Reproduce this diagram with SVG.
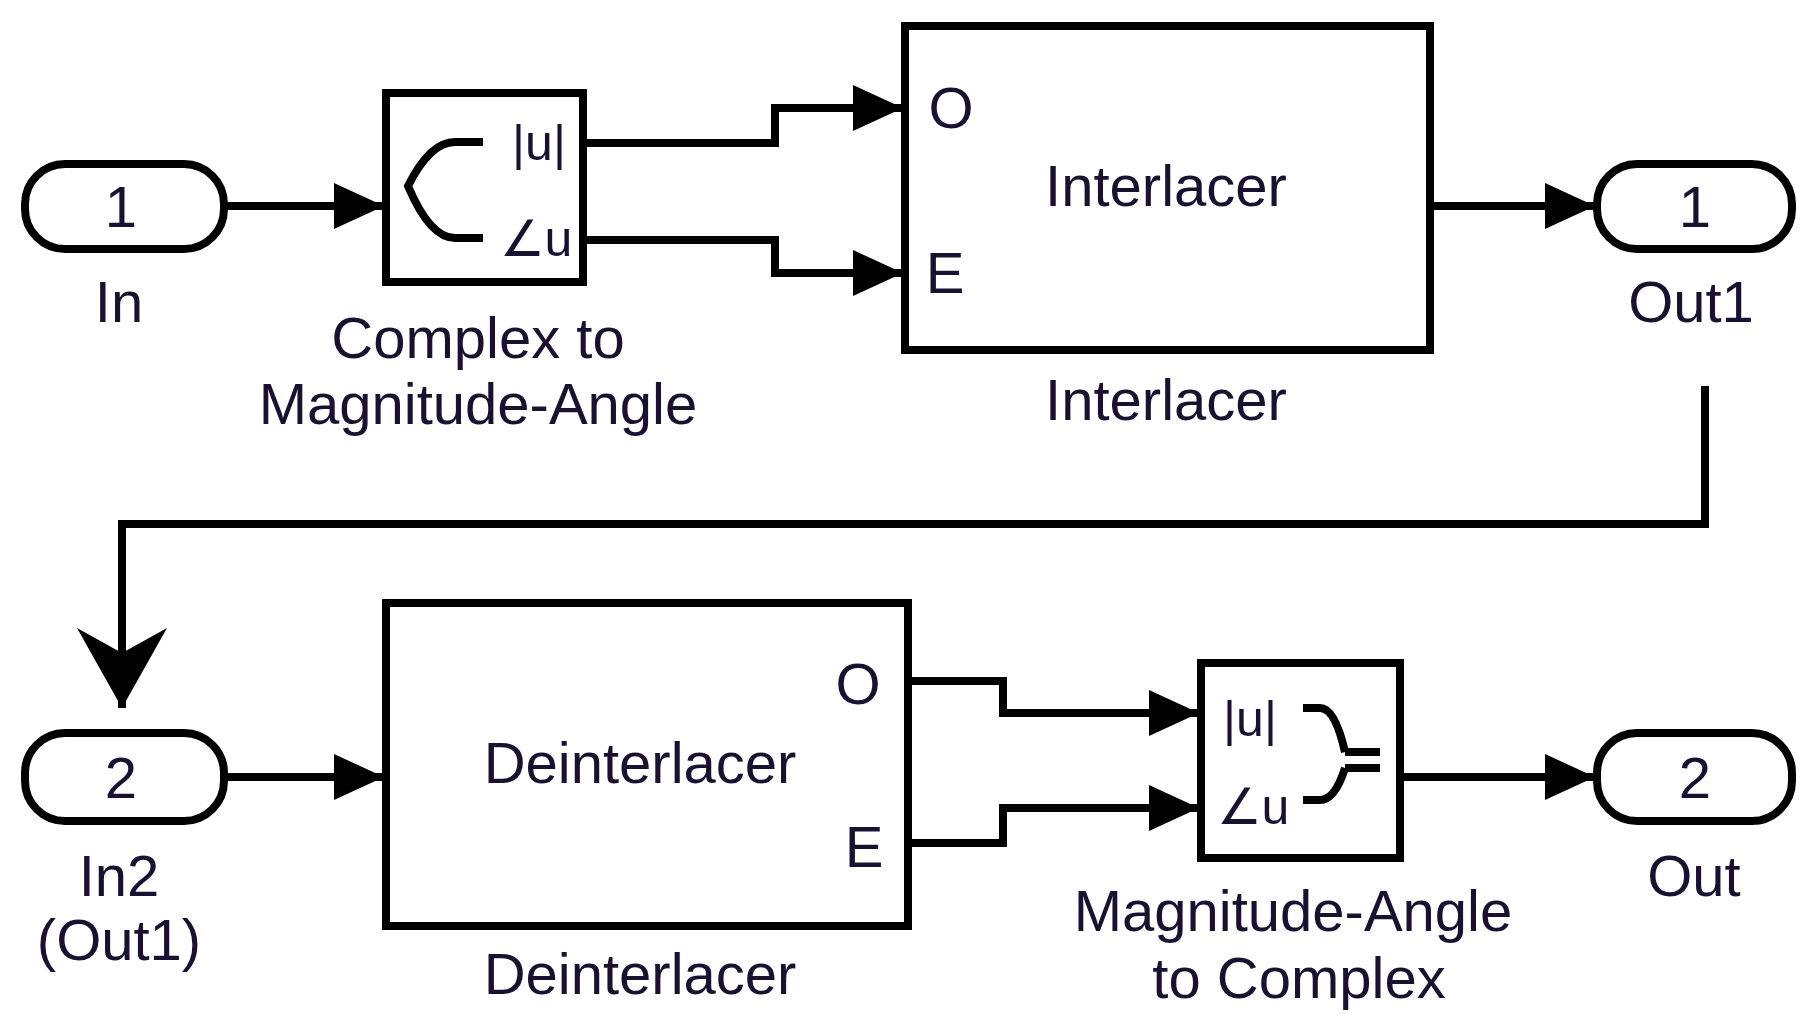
<svg xmlns="http://www.w3.org/2000/svg" width="1813" height="1032" viewBox="0 0 1813 1032">
<style>
.b{fill:#fff;stroke:#000;stroke-width:8}
.w{fill:none;stroke:#000;stroke-width:8}
text{font-family:"Liberation Sans",Arial,sans-serif;font-size:58px;fill:#1a1030;text-anchor:middle}
.s{font-size:50px}
</style>
<defs>
<marker id="a" markerUnits="userSpaceOnUse" markerWidth="52" markerHeight="50" refX="50" refY="25" orient="auto"><path d="M0,2 L50,25 L0,48 Z" fill="#000"/></marker>
<marker id="d" markerUnits="userSpaceOnUse" markerWidth="82" markerHeight="90" refX="80" refY="45" orient="auto"><path d="M0,0 L80,45 L0,90 L25,45 Z" fill="#000"/></marker>
</defs>
<rect width="1813" height="1032" fill="#fff"/>
<g id="connectors">
<path class="w" d="M224,206 H384" marker-end="url(#a)"/>
<path class="w" d="M583,143 H775 V108 H903" marker-end="url(#a)"/>
<path class="w" d="M583,240 H775 V273 H903" marker-end="url(#a)"/>
<path class="w" d="M1430,206 H1595" marker-end="url(#a)"/>
<path class="w" d="M1705,386 V524 H122 V708" marker-end="url(#d)"/>
<path class="w" d="M224,777 H384" marker-end="url(#a)"/>
<path class="w" d="M908,681 H1003 V713 H1199" marker-end="url(#a)"/>
<path class="w" d="M908,843 H1003 V808 H1199" marker-end="url(#a)"/>
<path class="w" d="M1400,777 H1595" marker-end="url(#a)"/>
</g>
<g id="in1"><rect class="b" x="25" y="164" width="199" height="85" rx="40"/><text x="121" y="227">1</text><text x="119" y="322">In</text></g>
<g id="c2m"><rect class="b" x="386" y="93" width="197" height="189"/>
<path class="w" d="M483,142 H455 Q430,142 408,186 Q430,238 455,238 H483"/>
<text class="s" x="539" y="160">|u|</text><text class="s" x="536" y="256">∠u</text>
<text x="478" y="358">Complex to</text><text x="478" y="424">Magnitude-Angle</text></g>
<g id="interlacer"><rect class="b" x="905" y="26" width="525" height="324"/>
<text x="951" y="128">O</text><text x="945" y="293">E</text>
<text x="1166" y="206">Interlacer</text><text x="1166" y="420">Interlacer</text></g>
<g id="out1"><rect class="b" x="1597" y="164" width="195" height="85" rx="40"/><text x="1695" y="227">1</text><text x="1691" y="322">Out1</text></g>
<g id="in2"><rect class="b" x="25" y="733" width="199" height="88" rx="40"/><text x="121" y="798">2</text><text x="119" y="896">In2</text><text x="119" y="960">(Out1)</text></g>
<g id="deinterlacer"><rect class="b" x="386" y="603" width="522" height="323"/>
<text x="858" y="704">O</text><text x="864" y="867">E</text>
<text x="640" y="783">Deinterlacer</text><text x="640" y="994">Deinterlacer</text></g>
<g id="ma2c"><rect class="b" x="1201" y="663" width="199" height="195"/>
<path class="w" d="M1303,708 H1320 Q1335,708 1345,752 M1303,800 H1320 Q1335,800 1345,768 M1345,752 H1380 M1345,768 H1380"/>
<text class="s" x="1250" y="736">|u|</text><text class="s" x="1253" y="824">∠u</text>
<text x="1293" y="931">Magnitude-Angle</text><text x="1299" y="998">to Complex</text></g>
<g id="out2"><rect class="b" x="1597" y="733" width="195" height="88" rx="40"/><text x="1695" y="798">2</text><text x="1694" y="896">Out</text></g>
</svg>
